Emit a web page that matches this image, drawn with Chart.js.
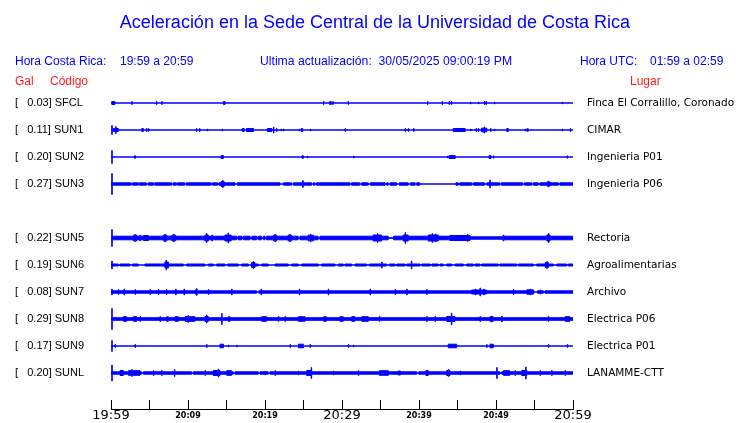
<!DOCTYPE html>
<html>
<head>
<meta charset="utf-8">
<script src="https://cdn.jsdelivr.net/npm/chart.js@4.4.1/dist/chart.umd.min.js"></script>
<style>
    body { margin: 0; background: #fff; }
    #wrap { position: relative; width: 740px; height: 423px; overflow: hidden; }
    #wrap canvas { position: absolute; left: 0; top: 0; }
    .txt { position: absolute; white-space: pre; font-family: 'Liberation Sans', Arial, sans-serif; line-height: 1; }
    .blue { color: #0000ff; }
    .red { color: #ff1a1a; }
</style>
</head>
<body>
<div id="wrap">
    <canvas id="accel" width="740" height="423"></canvas>
    <div class="txt blue" style="left:0; width:750px; text-align:center; top:13px; font-size:18px;">Aceleración en la Sede Central de la Universidad de Costa Rica</div>
    <div class="txt blue" style="left:15px; top:55px; font-size:12px;">Hora Costa Rica:</div>
    <div class="txt blue" style="left:120px; top:55px; font-size:12px;">19:59 a 20:59</div>
    <div class="txt blue" style="left:260px; top:55px; font-size:12.2px;">Ultima actualización:  30/05/2025 09:00:19 PM</div>
    <div class="txt blue" style="left:580px; top:55px; font-size:12px;">Hora UTC:</div>
    <div class="txt blue" style="left:650px; top:55px; font-size:12px;">01:59 a 02:59</div>
    <div class="txt red" style="left:15px; top:75px; font-size:12px;">Gal</div>
    <div class="txt red" style="left:50px; top:75px; font-size:12px;">Código</div>
    <div class="txt red" style="left:630px; top:75px; font-size:12px;">Lugar</div>
</div>
<script>
// station rows, top to bottom (SUN4 is not reporting, its row stays empty)
const stations = ['SFCL', 'SUN1', 'SUN2', 'SUN3', 'SUN4', 'SUN5', 'SUN6', 'SUN7', 'SUN8', 'SUN9', 'SUNL'];
const peakGal = ['0.03', '0.11', '0.20', '0.27', null, '0.22', '0.19', '0.08', '0.29', '0.17', '0.20'];
const places = ['Finca El Corralillo, Coronado', 'CIMAR', 'Ingenieria P01', 'Ingenieria P06', '',
    'Rectoria', 'Agroalimentarias', 'Archivo', 'Electrica P06', 'Electrica P01', 'LANAMME-CTT'];
const timeLabels = ['19:59', '', '20:09', '', '20:19', '', '20:29', '', '20:39', '', '20:49', '', '20:59'];

// background noise level of each trace
const baseAmp = [0, 0, 0, 1.2, null, 1.8, 1.0, 1.2, 1.3, 0, 1.2];

// bursts: [startMin, endMin, amplitude] or spikes: [min, amplitude]
const sfclBursts = [[0.1, 0.5, 1.5], [2.7, 1.5], [5.9, 1.5], [6.6, 1.5], [14.6, 14.8, 1.5], [27.6, 1.5],
    [28.4, 28.6, 1.5], [28.8, 1.5], [30.8, 1.5], [41.1, 1.5], [43.0, 1.5], [43.9, 1.5], [44.2, 1.5],
    [46.7, 1], [47.7, 1], [48.5, 1.5], [48.7, 1.5], [49.8, 1], [58.6, 1]];
const sun1Bursts = [[0.1, 4.5], [0.3, 0.95, 1.5], [0.6, 3.5], [4.0, 4.2, 1.5], [4.6, 1.5], [4.85, 1.5],
    [11.1, 1.5], [11.5, 1.5], [12.5, 1], [14.45, 1], [17.05, 17.3, 1.5], [17.6, 18.5, 1.5], [20.3, 20.9, 1.5],
    [21.1, 3], [21.5, 1.5], [22.1, 1], [22.4, 1], [24.45, 1], [24.7, 24.9, 1.5], [25.9, 1], [30.4, 1.5],
    [38.2, 1.5], [38.6, 1.5], [39.3, 1.5], [44.45, 46.0, 1.5], [46.7, 1], [47.4, 1.5], [47.7, 1.5],
    [48.1, 48.8, 1.8], [48.45, 3], [49.3, 1.5], [49.8, 1], [51.4, 51.6, 1.5], [53.8, 1], [54.0, 54.2, 1.2],
    [58.6, 1], [59.65, 1.5]];
const sun2Bursts = [[0.1, 6.5], [3.05, 3.2, 1.2], [14.3, 14.6, 1.5], [24.8, 25.0, 1.2], [25.5, 1], [31.5, 1],
    [43.7, 1], [43.9, 44.7, 1.5], [49.1, 49.35, 1.5], [49.65, 1.2], [59.25, 1.2]];
const sun3Bursts = [[0.1, 10.5], [14.3, 14.7, 2.5], [14.5, 3.5], [24.9, 3.5], [49.2, 4], [56.6, 57.0, 2], [56.8, 3],
    [2.6, 2.8, 0], [3.55, 3.7, 0], [4.6, 4.85, 0], [5.55, 5.7, 0], [7.9, 8.1, 0], [8.5, 8.65, 0], [9.6, 9.8, 0],
    [13.0, 13.15, 0], [13.85, 14.0, 0], [16.1, 16.4, 0], [21.95, 22.4, 0], [23.45, 23.7, 0], [26.05, 26.3, 0],
    [26.5, 26.7, 0], [31.05, 31.25, 0], [32.3, 32.55, 0], [33.4, 33.7, 0], [35.6, 35.8, 0], [36.0, 36.25, 0],
    [37.1, 37.45, 0], [38.6, 38.9, 0], [39.5, 39.7, 0], [40.1, 44.8, 0], [45.1, 45.3, 0], [46.85, 47.05, 0],
    [48.5, 48.8, 0], [50.5, 50.7, 0], [53.45, 53.7, 0], [54.65, 54.85, 0], [55.5, 55.7, 0], [58.1, 58.3, 0]];
const sun5Bursts = [[0.1, 8.5], [2.9, 3.35, 2.8], [3.1, 3.5], [3.75, 3], [4.2, 4.85, 2.5], [6.8, 7.25, 2.8], [7.0, 3.8],
    [7.9, 8.4, 2.8], [8.1, 3.8], [12.2, 12.65, 3], [12.4, 4.5], [13.1, 3], [14.8, 15.6, 3], [15.2, 5],
    [21.1, 21.5, 2.8], [21.3, 3.8], [23.0, 23.45, 2.8], [23.2, 3.8], [25.6, 26.3, 2.8], [25.9, 3.8],
    [34.05, 35.15, 3], [34.6, 4.5], [37.95, 38.6, 3], [38.2, 5.5], [41.2, 42.5, 3], [41.7, 4.5], [42.1, 4],
    [44.0, 46.6, 2.5], [46.3, 3.5], [50.95, 3], [56.6, 57.0, 3], [56.8, 4.5],
    [16.3, 16.5, 0.3], [17.0, 17.2, 0.3], [18.05, 18.3, 0.3], [18.9, 19.1, 0.3], [19.55, 19.8, 0.3],
    [20.0, 20.2, 0.3], [24.3, 24.55, 0.3], [26.9, 27.15, 0.3], [36.0, 36.7, 0.3], [46.7, 50.8, 1.2]];
const sun6Bursts = [[0.1, 4], [7.0, 7.45, 3], [7.15, 5], [18.27, 18.7, 2.5], [18.45, 3.5], [35.15, 3], [39.0, 4],
    [56.4, 56.8, 2.5], [56.6, 3.5],
    [0.95, 1.17, 0], [2.47, 2.77, 0], [3.55, 4.42, 0], [9.39, 9.83, 0], [12.2, 12.64, 0], [13.29, 13.72, 0],
    [14.8, 15.15, 0], [16.54, 16.97, 0], [17.84, 18.2, 0], [19.13, 19.57, 0], [20.43, 21.3, 0], [23.03, 23.46, 0],
    [24.33, 24.76, 0], [26.93, 27.36, 0], [29.1, 29.52, 0], [30.17, 30.39, 0], [31.26, 31.69, 0], [33.2, 33.55, 0],
    [35.8, 36.15, 0], [36.88, 37.1, 0], [38.18, 38.4, 0], [40.13, 40.35, 0], [41.43, 41.65, 0], [42.51, 42.73, 0],
    [43.16, 43.59, 0], [44.24, 44.68, 0], [45.76, 46.19, 0], [47.06, 47.27, 0], [47.92, 48.14, 0], [50.3, 50.52, 0],
    [52.68, 52.9, 0], [54.85, 55.28, 0], [57.45, 57.88, 0], [59.18, 59.39, 0]];
const sun7Bursts = [[0.1, 3], [0.95, 2.5], [1.69, 3], [3.12, 2.5], [5.06, 2.5], [6.15, 2.5], [7.2, 2.5], [8.4, 3],
    [9.48, 3], [11.0, 11.2, 2.5], [11.1, 3.5], [12.64, 2.5], [15.67, 3], [18.9, 19.2, 0], [19.48, 3], [24.46, 3],
    [28.22, 3], [33.64, 3], [36.88, 2.5], [38.4, 3], [41.0, 2.5], [46.84, 48.79, 2], [47.3, 3], [47.92, 4],
    [48.4, 3], [52.25, 2.5], [54.0, 54.85, 2.2], [54.4, 3], [54.94, 55.37, 0], [55.71, 2], [56.15, 56.36, 0]];
const sun8Bursts = [[0.1, 10.5], [1.6, 2.03, 2.3], [2.9, 3.33, 2.3], [3.77, 2.5], [6.36, 2.5], [7.23, 7.45, 2.3],
    [8.31, 8.74, 2.3], [9.61, 10.9, 2.3], [10.0, 3.5], [12.2, 12.64, 2.5], [12.4, 4], [14.37, 5.5],
    [15.24, 15.45, 2.3], [19.57, 20.22, 2.3], [21.73, 2.5], [22.6, 2.5], [24.33, 25.2, 2.3], [27.58, 28.0, 2.2],
    [29.74, 30.17, 2.3], [31.26, 31.69, 2.3], [32.55, 33.42, 2.3], [34.85, 2.5], [41.0, 2.5], [42.08, 2.5],
    [43.59, 44.68, 2.5], [44.2, 6], [47.92, 2.5], [49.22, 49.65, 2.3], [49.4, 3], [50.74, 3], [56.8, 2.5],
    [58.96, 59.6, 2.3]];
const sun9Bursts = [[0.1, 5.5], [0.52, 1.5], [3.12, 1.5], [12.42, 1.5], [14.16, 14.6, 1.8], [15.24, 1], [16.32, 1],
    [23.25, 1.5], [24.33, 24.98, 1.8], [25.84, 1.5], [30.82, 1.5], [31.47, 1], [43.8, 44.9, 1.8], [48.79, 1.5],
    [49.22, 49.65, 1.8], [56.8, 1.5], [59.26, 1.5]];
const sunlBursts = [[0.1, 8], [1.17, 1.6, 2.5], [2.25, 3.77, 2.3], [2.68, 3.5], [3.98, 4.2, 0], [5.5, 2.5],
    [6.58, 2.5], [8.23, 3.5], [10.48, 10.7, 0], [12.2, 2.5], [13.29, 14.16, 2.5], [13.94, 4], [15.02, 15.67, 2.3],
    [15.89, 16.1, 0], [19.13, 19.35, 0], [20.0, 2], [20.43, 20.65, 0], [21.3, 2.5], [24.33, 2],
    [25.41, 26.06, 2.5], [26.0, 5.5], [28.87, 2], [32.12, 2.5], [34.85, 36.02, 2.3], [37.3, 37.6, 2],
    [39.7, 39.96, 0], [40.9, 41.2, 2.5], [43.59, 44.03, 2.5], [43.8, 3.5], [45.32, 2], [50.09, 5.5],
    [50.52, 50.74, 0], [50.95, 51.8, 2.3], [52.47, 2.5], [53.33, 54.0, 2.5], [53.85, 6], [55.71, 2.5],
    [57.23, 2.5], [58.96, 2.5]];

const traceBursts = [sfclBursts, sun1Bursts, sun2Bursts, sun3Bursts, null, sun5Bursts,
    sun6Bursts, sun7Bursts, sun8Bursts, sun9Bursts, sunlBursts];

const ROW = 27;          // vertical spacing between traces (y units)
const SPAN = 60;         // minutes shown
const TRACE = '#0000ff';

// Turn the burst list into a step envelope (amplitude per time interval)
function envelope(base, bursts) {
    const evs = bursts.map(b => b.length === 2 ? [b[0], b[0] + 0.06, b[1]] : b);
    const cuts = new Set([0, SPAN]);
    evs.forEach(e => { cuts.add(e[0]); cuts.add(e[1]); });
    const xs = [...cuts].filter(x => x >= 0 && x <= SPAN).sort((a, b) => a - b);
    const env = [];
    for (let i = 0; i < xs.length - 1; i++) {
        const mid = (xs[i] + xs[i + 1]) / 2;
        const cover = evs.filter(e => e[0] <= mid && mid < e[1]);
        const amp = cover.length ? Math.max(...cover.map(e => e[2])) : base;
        env.push({ x: xs[i], amp: amp });
    }
    env.push({ x: SPAN, amp: env[env.length - 1].amp });
    return env;
}

const datasets = [];
stations.forEach((name, i) => {
    if (!traceBursts[i]) return;
    const env = envelope(baseAmp[i], traceBursts[i]);
    const center = i * ROW;
    datasets.push({
        label: name + ' +',
        data: env.map(p => ({ x: p.x, y: center - p.amp })),
        stepped: true,
        borderColor: TRACE,
        borderWidth: 1,
        pointRadius: 0,
        fill: false,
    });
    datasets.push({
        label: name + ' -',
        data: env.map(p => ({ x: p.x, y: center + p.amp })),
        stepped: true,
        borderColor: TRACE,
        backgroundColor: TRACE,
        borderWidth: 1,
        pointRadius: 0,
        fill: '-1',
    });
});

const rowTicks = (scale) => {
    scale.ticks = stations.map((_, i) => ({ value: i * ROW }));
};

// fixed box sizes so the plot lands where the original one is
const fixWidth = (w) => (scale) => {
    scale.width = w;
    scale.paddingTop = 0;
    scale.paddingBottom = 0;
};

new Chart(document.getElementById('accel').getContext('2d'), {
    type: 'line',
    data: { datasets: datasets },
    options: {
        responsive: false,
        animation: false,
        events: [],
        layout: {
            padding: { top: 94, left: 15, right: 0, bottom: 0 },
        },
        plugins: {
            legend: { display: false },
            tooltip: { enabled: false },
            title: { display: false },
        },
        scales: {
            x: {
                type: 'linear',
                min: 0,
                max: SPAN,
                afterFit: (scale) => {
                    scale.height = 14;
                    scale.paddingLeft = 0;
                    scale.paddingRight = 0;
                },
                border: { display: true, color: '#000', width: 1 },
                grid: {
                    display: true,
                    drawOnChartArea: false,
                    drawTicks: true,
                    tickLength: -9,     // tick marks point up from the axis line
                    color: '#000',
                },
                ticks: {
                    stepSize: 5,
                    autoSkip: false,
                    maxRotation: 0,
                    padding: 8,
                    color: '#000',
                    font: (ctx) => ctx.index % 6 === 0
                        ? { family: 'DejaVu Sans', size: 13 }
                        : { family: 'DejaVu Sans', size: 8, weight: 'bold', lineHeight: 2 },
                    callback: (value, index) => timeLabels[index],
                },
            },
            y: {
                position: 'left',
                reverse: true,
                min: -9,
                max: 306,
                afterFit: fixWidth(96),
                afterBuildTicks: rowTicks,
                border: { display: false },
                grid: { display: false, drawTicks: false },
                ticks: {
                    crossAlign: 'far',
                    color: '#000',
                    font: { family: 'Liberation Sans', size: 11 },
                    callback: (value, index) => peakGal[index] ? `[   ${peakGal[index]}] ${stations[index]}` : '',
                },
            },
            yRight: {
                position: 'right',
                reverse: true,
                min: -9,
                max: 306,
                afterFit: fixWidth(167),
                afterBuildTicks: rowTicks,
                border: { display: false },
                grid: { display: false, drawTicks: false },
                ticks: {
                    padding: 14,
                    color: '#000',
                    font: { family: 'DejaVu Sans', size: 10.5 },
                    callback: (value, index) => places[index],
                },
            },
        },
    },
});
</script>
</body>
</html>
